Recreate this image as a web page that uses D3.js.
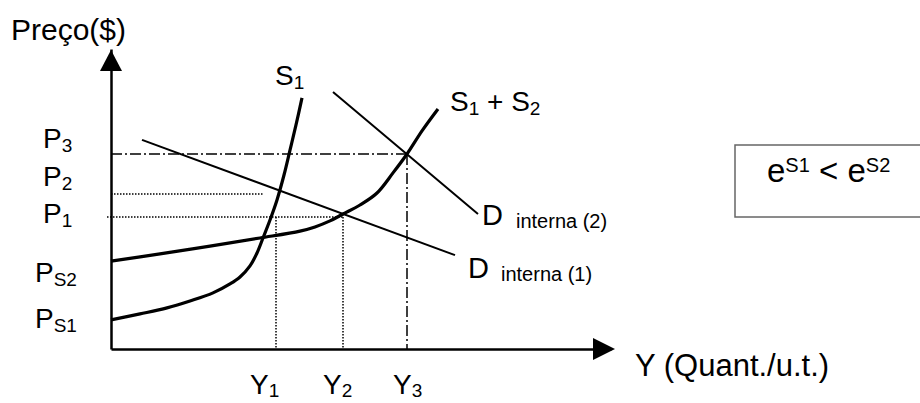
<!DOCTYPE html>
<html>
<head>
<meta charset="utf-8">
<script src="https://cdn.jsdelivr.net/npm/d3@7"></script>
<style>
  body { margin: 0; background: #fff; }
  svg { display: block; font-family: "Liberation Sans", Arial, sans-serif; }
</style>
</head>
<body>
<svg id="chart" width="920" height="403"></svg>
<script>
// curves, in chart units (quantity 0-100, price 0-100)
var s1 = [[0,9.7],[5.8,11.7],[11.2,13.7],[15.8,16],[20.4,18.7],[23.8,21.7],[25.8,24],[27.8,27.7],
          [29.2,32],[30.4,37],[31.8,43],[33.2,49.7],[34.6,58],[35.8,66.3],[37,74.7],[38.2,83.7]];
var s1s2 = [[0,29.3],[9.8,31.7],[19.8,34.3],[29.8,37],[37.8,39.3],[40.8,40.7],[43.8,42.7],[46.4,45],
            [49.8,48],[53.2,52],[56.4,58.7],[59.2,65],[62.2,72.7],[65.4,80]];
var d1 = [[6.2,69.7],[68.8,31.3]];
var d2 = [[44.4,85.7],[73.4,45]];

// guide lines: [x0, y0, x1, y1, style]
var guides = [
  [0, 65, 59.2, 65, "dashdot"],
  [59.2, 65, 59.2, 0, "dashdot"],
  [0, 51.7, 30.4, 51.7, "dot"],
  [-0.8, 44, 46.4, 44, "dot"],
  [33, 44, 33, 0, "dot"],
  [46.4, 45, 46.4, 0, "dot"]
];

// labels: main text, subscript, anchor value
var yLabels = [
  {main: "P", sub: "3", v: 65, dx: 43, dy: -6},
  {main: "P", sub: "2", v: 51.7, dx: 43, dy: -8},
  {main: "P", sub: "1", v: 44, dx: 43, dy: 6},
  {main: "P", sub: "S2", v: 29.3, dx: 35, dy: 21},
  {main: "P", sub: "S1", v: 9.7, dx: 35, dy: 8}
];
var xLabels = [
  {main: "Y", sub: "1", v: 33, dx: -26},
  {main: "Y", sub: "2", v: 46.4, dx: -20},
  {main: "Y", sub: "3", v: 59.2, dx: -14}
];

var svg = d3.select("#chart");
var x = d3.scaleLinear().domain([0, 100]).range([111, 611]);
var y = d3.scaleLinear().domain([0, 100]).range([349, 49]);

// axes, no ticks
svg.append("g")
  .attr("transform", "translate(0," + y(0) + ")")
  .call(d3.axisBottom(x).tickValues([]).tickSizeOuter(0))
  .select(".domain").attr("stroke", "#000").attr("stroke-width", 2.5);
svg.append("g")
  .attr("transform", "translate(" + x(0) + ",0)")
  .call(d3.axisLeft(y).tickValues([]).tickSizeOuter(0))
  .select(".domain").attr("stroke", "#000").attr("stroke-width", 2.5);

// arrow heads
svg.append("path")
  .attr("d", "M" + x(0) + "," + (y(100) + 1) + "L" + (x(0) - 11) + "," + (y(100) + 22) + "L" + (x(0) + 11) + "," + (y(100) + 22) + "Z")
  .attr("fill", "#000");
svg.append("path")
  .attr("d", "M" + (x(100) + 4) + "," + y(0) + "L" + (x(100) - 18) + "," + (y(0) - 11) + "L" + (x(100) - 18) + "," + (y(0) + 11) + "Z")
  .attr("fill", "#000");

// guides
svg.selectAll(".guide").data(guides).enter().append("line")
  .attr("class", "guide")
  .attr("x1", d => x(d[0])).attr("y1", d => y(d[1]))
  .attr("x2", d => x(d[2])).attr("y2", d => y(d[3]))
  .attr("stroke", "#000")
  .attr("stroke-width", 1.5)
  .attr("stroke-dasharray", d => d[4] == "dot" ? "1.5,1.5" : "11,3,2,3");

var line = d3.line().x(d => x(d[0])).y(d => y(d[1]));
var curve = d3.line().x(d => x(d[0])).y(d => y(d[1])).curve(d3.curveCatmullRom);

svg.append("path").datum(d1).attr("d", line).attr("fill", "none").attr("stroke", "#000").attr("stroke-width", 2);
svg.append("path").datum(d2).attr("d", line).attr("fill", "none").attr("stroke", "#000").attr("stroke-width", 2);
svg.append("path").datum(s1s2).attr("d", curve).attr("fill", "none").attr("stroke", "#000").attr("stroke-width", 3.2);
svg.append("path").datum(s1).attr("d", curve).attr("fill", "none").attr("stroke", "#000").attr("stroke-width", 3.2);

// text with subscript
function subText(g, px, py, main, sub, size, subSize, drop) {
  var t = g.append("text").attr("x", px).attr("y", py).attr("font-size", size).attr("fill", "#000");
  t.append("tspan").text(main);
  t.append("tspan").attr("font-size", subSize).attr("dy", drop).text(sub);
  return t;
}

yLabels.forEach(function (d) {
  subText(svg, d.dx, y(d.v) + d.dy, d.main, d.sub, 28, 19, 4);
});
xLabels.forEach(function (d) {
  subText(svg, x(d.v) + d.dx, 394, d.main, d.sub, 28, 19, 3);
});

svg.append("text").attr("x", 11).attr("y", 40).attr("font-size", 30).text("Preço($)");
svg.append("text").attr("x", 635).attr("y", 376).attr("font-size", 31).text("Y (Quant./u.t.)");

subText(svg, 275, 85, "S", "1", 28, 19, 4);
var t = subText(svg, 450, 111, "S", "1", 28, 19, 4);
t.append("tspan").attr("dy", -4).attr("font-size", 28).text(" + S");
t.append("tspan").attr("dy", 4).attr("font-size", 19).text("2");

var dt2 = svg.append("text").attr("x", 482).attr("y", 225).attr("font-size", 29);
dt2.append("tspan").text("D");
dt2.append("tspan").attr("x", 516).attr("dy", 3).attr("font-size", 20).text("interna (2)");
var dt1 = svg.append("text").attr("x", 468).attr("y", 278).attr("font-size", 29);
dt1.append("tspan").text("D");
dt1.append("tspan").attr("x", 501).attr("dy", 3).attr("font-size", 20).text("interna (1)");

// elasticity box
svg.append("rect").attr("x", 735).attr("y", 145).attr("width", 200).attr("height", 72)
  .attr("fill", "none").attr("stroke", "#666").attr("stroke-width", 1.5);
var et = svg.append("text").attr("x", 767).attr("y", 182).attr("font-size", 33);
et.append("tspan").text("e");
et.append("tspan").attr("dy", -10).attr("font-size", 20).text("S1");
et.append("tspan").attr("dy", 10).text(" < e");
et.append("tspan").attr("dy", -10).attr("font-size", 20).text("S2");
</script>
</body>
</html>
